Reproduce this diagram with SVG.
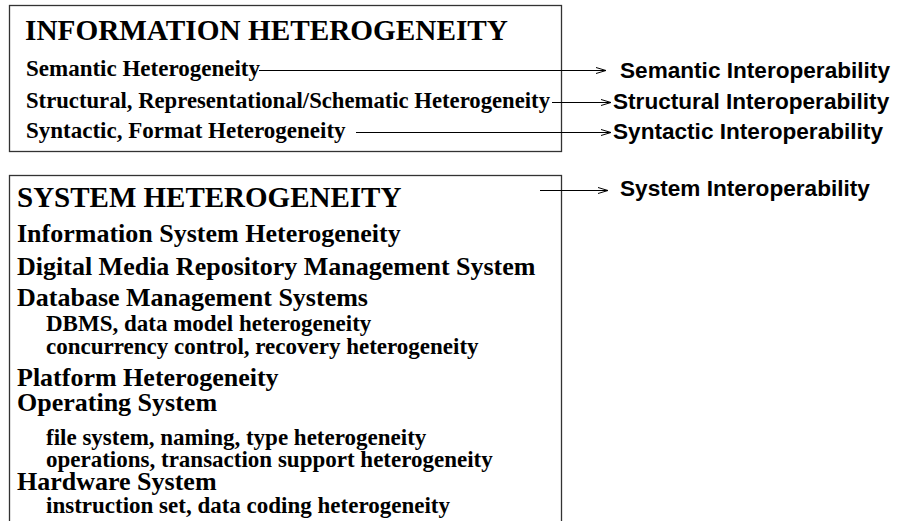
<svg xmlns="http://www.w3.org/2000/svg" width="899" height="521" viewBox="0 0 899 521">
  <style>
    .frame { fill: none; stroke: #333; stroke-width: 1.3; }
    .head { font-family: "Liberation Serif", "Times New Roman", serif; font-weight: bold; font-size: 29px; fill: #000; }
    .item { font-family: "Liberation Serif", "Times New Roman", serif; font-weight: bold; font-size: 26px; fill: #000; }
    .sub { font-family: "Liberation Serif", "Times New Roman", serif; font-weight: bold; font-size: 23px; fill: #000; }
    .label { font-family: "Liberation Sans", Arial, sans-serif; font-weight: bold; font-size: 22.6px; fill: #000; }
    .link { fill: none; stroke: #000; stroke-width: 1; marker-end: url(#open); }
  </style>
  <defs>
    <marker id="open" viewBox="0 0 12 8" refX="11" refY="4" markerWidth="12" markerHeight="8" markerUnits="userSpaceOnUse" orient="auto">
      <path d="M1,1 L11,4 L1,7" fill="none" stroke="#000" stroke-width="1"/>
    </marker>
  </defs>

  <!-- information heterogeneity box -->
  <g id="information">
    <rect class="frame" x="9.5" y="5.5" width="552" height="146"/>
    <text class="head" x="25" y="40" textLength="483" lengthAdjust="spacingAndGlyphs">INFORMATION HETEROGENEITY</text>
    <text class="sub" x="26" y="76">Semantic Heterogeneity</text>
    <text class="sub" x="26" y="108" textLength="524" lengthAdjust="spacingAndGlyphs">Structural, Representational/Schematic Heterogeneity</text>
    <text class="sub" x="26" y="138">Syntactic, Format Heterogeneity</text>
  </g>

  <!-- system heterogeneity box (open at the bottom edge) -->
  <g id="system">
    <rect class="frame" x="9.5" y="175.5" width="552" height="360"/>
    <text class="head" x="17" y="207">SYSTEM HETEROGENEITY</text>
    <text class="item" x="17" y="242">Information System Heterogeneity</text>
    <text class="item" x="17" y="275">Digital Media Repository Management System</text>
    <text class="item" x="17" y="306">Database Management Systems</text>
    <text class="sub" x="46" y="331">DBMS, data model heterogeneity</text>
    <text class="sub" x="46" y="354">concurrency control, recovery heterogeneity</text>
    <text class="item" x="17" y="386">Platform Heterogeneity</text>
    <text class="item" x="17" y="411">Operating System</text>
    <text class="sub" x="46" y="445">file system, naming, type heterogeneity</text>
    <text class="sub" x="46" y="467">operations, transaction support heterogeneity</text>
    <text class="item" x="17" y="490">Hardware System</text>
    <text class="sub" x="46" y="513">instruction set, data coding heterogeneity</text>
  </g>

  <!-- interoperability targets -->
  <g id="semantic-interop"><text class="label" x="620" y="78">Semantic Interoperability</text></g>
  <g id="structural-interop"><text class="label" x="613" y="109">Structural Interoperability</text></g>
  <g id="syntactic-interop"><text class="label" x="613" y="139">Syntactic Interoperability</text></g>
  <g id="system-interop"><text class="label" x="620" y="196">System Interoperability</text></g>

  <!-- connectors -->
  <g id="connectors">
    <line class="link" x1="259" y1="70.5" x2="606" y2="70.5"/>
    <line class="link" x1="552" y1="102.5" x2="611" y2="102.5"/>
    <line class="link" x1="356" y1="132.5" x2="611" y2="132.5" stroke="#444"/>
    <line class="link" x1="540" y1="190.5" x2="608" y2="190.5"/>
  </g>
</svg>
